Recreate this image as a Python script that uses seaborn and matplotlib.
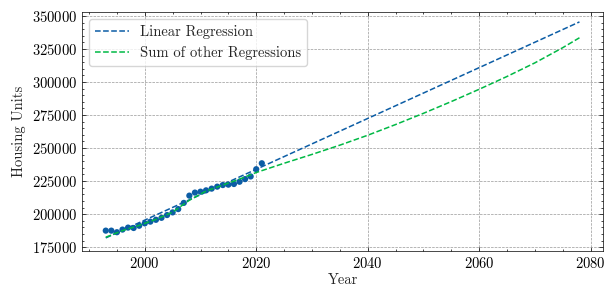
"""Housing units: observed values with linear and combined regression projections."""
import matplotlib
matplotlib.use('Agg')
import matplotlib.pyplot as plt
from matplotlib.ticker import AutoMinorLocator
import seaborn as sns
import pandas as pd

# ── data ─────────────────────────────────────────────────────────────────
years = list(range(1993, 2022))
units = [187500, 187500, 186300, 188300, 189800, 189500, 191200, 193000,
         194300, 195700, 197200, 199300, 201300, 203800, 208500, 214000,
         216300, 217000, 218000, 219300, 220800, 222000, 222300, 222800,
         224500, 226500, 228500, 234000, 238500]

lin_years = [1993, 2078]
lin_values = [182000, 345500]

other_years = [1993, 1996, 1999, 2002, 2005, 2008, 2011, 2014, 2017, 2020,
               2025, 2030, 2035, 2040, 2045, 2050, 2055, 2060, 2065, 2070,
               2075, 2078]
other_values = [182500, 187500, 191500, 196000, 201500, 210500, 217500,
                222000, 226500, 231500, 238500, 245200, 252200, 259700,
                267800, 276300, 285200, 294500, 304200, 314500, 326000,
                333500]

BLUE, GREEN = '#0C5DA5', '#00B945'
FS = 10.5

sns.set_theme(style='ticks')
plt.rcParams.update({
    'font.family': ['cmr10', 'DejaVu Serif'],
    'axes.formatter.use_mathtext': True,
    'axes.unicode_minus': False,
    'font.size': FS,
    'axes.labelsize': FS,
    'legend.fontsize': FS,
    'xtick.labelsize': FS, 'ytick.labelsize': FS,
    'xtick.direction': 'in', 'ytick.direction': 'in',
    'xtick.top': True, 'ytick.right': True,
    'xtick.minor.visible': True, 'ytick.minor.visible': True,
    'xtick.major.size': 3, 'ytick.major.size': 3,
    'xtick.minor.size': 1.5, 'ytick.minor.size': 1.5,
    'xtick.major.width': 0.5, 'ytick.major.width': 0.5,
    'xtick.minor.width': 0.5, 'ytick.minor.width': 0.5,
    'axes.linewidth': 0.5,
    'xtick.color': 'black', 'ytick.color': 'black',
})

obs = pd.DataFrame({'year': years, 'units': units})
lin = pd.DataFrame({'year': lin_years, 'units': lin_values})
oth = pd.DataFrame({'year': other_years, 'units': other_values})

fig, ax = plt.subplots(figsize=(6.08, 2.86), dpi=100)
sns.scatterplot(data=obs, x='year', y='units', color=BLUE, s=20,
                edgecolor='none', ax=ax, zorder=3)
sns.lineplot(data=lin, x='year', y='units', color=BLUE, lw=1.1,
             linestyle='--', label='Linear Regression', ax=ax, zorder=4)
sns.lineplot(data=oth, x='year', y='units', color=GREEN, lw=1.1,
             linestyle='--', label='Sum of other Regressions', ax=ax, zorder=4)

ax.set_xlim(1988.75, 2082.25)
ax.set_ylim(172000, 353000)
ax.set_yticks(range(175000, 350001, 25000))
ax.xaxis.set_minor_locator(AutoMinorLocator(4))
ax.yaxis.set_minor_locator(AutoMinorLocator(5))
ax.grid(True, which='major', linestyle='--', linewidth=0.5, color='#999999')
ax.set_xlabel('Year', labelpad=2)
ax.set_ylabel('Housing Units')
for s in ax.spines.values():
    s.set_color('black')

ax.legend(loc='upper left', frameon=True, fancybox=True, handlelength=2.3,
          edgecolor='#cccccc', framealpha=0.8)

plt.subplots_adjust(left=0.135, right=0.992, top=0.958, bottom=0.122)
plt.savefig('out.png', dpi=100)
plt.close()
